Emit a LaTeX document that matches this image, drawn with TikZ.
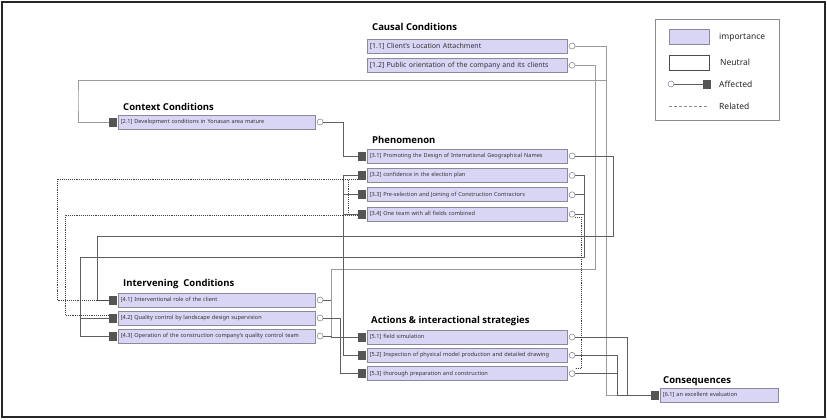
\documentclass[tikz,border=0pt]{standalone}
\usepackage{fontspec}
\setmainfont{Noto Sans}
\newfontfamily\headfont{Open Sans}
\usetikzlibrary{positioning}

\definecolor{impfill}{RGB}{217,213,244}
\definecolor{boxline}{RGB}{138,138,152}
\definecolor{markfill}{RGB}{85,85,85}
\definecolor{wiredark}{RGB}{95,95,95}
\definecolor{wirelight}{RGB}{155,155,155}

\tikzset{
	imp/.style={rectangle, draw=boxline, fill=impfill, line width=0.8pt,
		minimum height=14pt, inner xsep=2.5pt, inner ysep=0pt, anchor=west,
		align=left, text=black!80, font=\fontsize{5.6}{6}\selectfont},
	wide/.style={text width=195pt},
	mid/.style={text width=192pt},
	sq/.style={rectangle, fill=markfill, inner sep=0pt, minimum width=8pt, minimum height=9pt},
	circ/.style={circle, draw=boxline, fill=white, line width=0.6pt, inner sep=0pt, minimum size=6pt},
	head/.style={inner sep=0pt, text depth=0pt, font=\headfont\fontsize{9.5}{10}\selectfont\bfseries},
	wire/.style={draw=wiredark, line width=0.9pt},
	wirel/.style={draw=wirelight, line width=0.7pt},
	related/.style={draw=black!75, line width=0.9pt, densely dotted},
	legtext/.style={inner sep=0pt, anchor=west, font=\fontsize{8.5}{10}\selectfont, text=black!85},
}

\begin{document}
\begin{tikzpicture}[x=1pt, y=-1pt]
	\useasboundingbox (0,0) rectangle (827,420);
	\draw[line width=1.3pt, black!85] (2,2) rectangle (825,417);
	
	% legend
	\node[draw=black!45, line width=0.7pt, minimum width=124pt, minimum height=101pt] (leg) at (717,69.5) {};
	\node[imp, anchor=center, minimum width=40pt, minimum height=15pt] (limp) at (689,36.5) {};
	\node[legtext] (timp) at (719,37) {importance};
	\node[draw=black!70, line width=0.8pt, fill=white, minimum width=40pt, minimum height=15pt] (lneu) at (689,62.5) {};
	\node[legtext] (tneu) at (720,62) {Neutral};
	\node[circ] (laffc) at (671,84) {};
	\node[sq] (laffs) at (707,84) {};
	\node[legtext] (taff) at (719,84) {Affected};
	\coordinate (lrel0) at (669,106);
	\coordinate (lrel1) at (709,106);
	\node[legtext] (trel) at (719,106) {Related};
	
	% causal conditions
	\node[imp, wide, font=\fontsize{7}{8}\selectfont] (c11) at (367,46) {[1.1] Client's Location Attachment};
	\node[imp, wide, font=\fontsize{7}{8}\selectfont, below=4.5pt of c11] (c12) {[1.2] Public orientation of the company and its clients};
	\node[circ, right=1pt of c11] (c11c) {};
	\node[circ, right=1pt of c12] (c12c) {};
	\node[head, above right=8pt and 5pt of c11.north west] (hcau) {Causal Conditions};
	
	% context conditions
	\node[imp, mid] (x21) at (118,122) {[2.1] Development conditions in Yonasan area mature};
	\node[sq, left=1pt of x21] (x21s) {};
	\node[circ, right=1pt of x21] (x21c) {};
	\node[head, above right=4pt and 5pt of x21.north west] (hctx) {Context Conditions};
	
	% phenomenon
	\node[imp, wide] (p31) at (367,156) {[3.1] Promoting the Design of International Geographical Names};
	\node[imp, wide, below=4.6pt of p31] (p32) {[3.2] confidence in the election plan};
	\node[imp, wide, below=4.6pt of p32] (p33) {[3.3] Pre-selection and Joining of Construction Contractors};
	\node[imp, wide, below=4.6pt of p33] (p34) {[3.4] One team with all fields combined};
	\node[sq, left=1pt of p31] (p31s) {};
	\node[sq, left=1pt of p32] (p32s) {};
	\node[sq, left=1pt of p33] (p33s) {};
	\node[sq, left=1pt of p34] (p34s) {};
	\node[circ, right=1pt of p31] (p31c) {};
	\node[circ, right=1pt of p32] (p32c) {};
	\node[circ, right=1pt of p33] (p33c) {};
	\node[circ, right=1pt of p34] (p34c) {};
	\node[head, above right=5pt and 5pt of p31.north west] (hphe) {Phenomenon};
	
	% intervening conditions
	\node[imp, mid] (i41) at (118,300) {[4.1] Interventional role of the client};
	\node[imp, mid, below=3.2pt of i41] (i42) {[4.2] Quality control by landscape design supervision};
	\node[imp, mid, below=3.2pt of i42] (i43) {[4.3] Operation of the construction company's quality control team};
	\node[sq, left=1pt of i41] (i41s) {};
	\node[sq, left=1pt of i42] (i42s) {};
	\node[sq, left=1pt of i43] (i43s) {};
	\node[circ, right=1pt of i41] (i41c) {};
	\node[circ, right=1pt of i42] (i42c) {};
	\node[circ, right=1pt of i43] (i43c) {};
	\node[head, above right=6pt and 5pt of i41.north west] (hint) {Intervening\ \ Conditions};
	
	% actions & interactional strategies
	\node[imp, wide] (s51) at (367,337) {[5.1] field simulation};
	\node[imp, wide, below=3.5pt of s51] (s52) {[5.2] Inspection of physical model production and detailed drawing};
	\node[imp, wide, below=3.5pt of s52] (s53) {[5.3] thorough preparation and construction};
	\node[sq, left=1pt of s51] (s51s) {};
	\node[sq, left=1pt of s52] (s52s) {};
	\node[sq, left=1pt of s53] (s53s) {};
	\node[circ, right=1pt of s51] (s51c) {};
	\node[circ, right=1pt of s52] (s52c) {};
	\node[circ, right=1pt of s53] (s53c) {};
	\node[head, above right=6pt and 4pt of s51.north west] (hact) {Actions \& interactional strategies};
	
	% consequences
	\node[imp, text width=113pt] (q61) at (660,395) {[6.1] an excellent evaluation};
	\node[sq, left=1pt of q61] (q61s) {};
	\node[head, above right=4pt and 3pt of q61.north west] (hcon) {Consequences};
	
	% legend connectors
	\draw[wiredark, line width=0.6pt] (laffc) -- (laffs);
	\draw[related, draw=black!45, line width=0.6pt, densely dashed] (lrel0) -- (lrel1);
	
	% affected
	\draw[wirel] (c11c.east) -- ++(31,0) |- (q61s.west);
	\draw[wirel] (c11c.east) -- ++(31,0) -- ++(0,34) -| (78,100) |- (x21s.west);
	\draw[wirel] (c12c.east) -- ++(20,0) |- (331,269) |- (s51s.west);
	\draw[wire] (x21c.east) -- ++(20,0) |- (p31s.west);
	\draw[wire] (p31c.east) -- ++(38,0) |- (97,236) |- (i41s.west);
	\draw[wire] (p32c.east) -- ++(9,0) |- (80,257) |- (i43s.west);
	\draw[wire] (p33c.east) -- ++(9,0);
	\draw[wire] (p34c.east) -- ++(9,0);
	\draw[wire] (i42s.west) -- ++(-29,0);
	\draw[wire] (p32s.west) -- ++(-14,0) |- (s52s.west);
	\draw[wire] (p33s.west) -- ++(-14,0);
	\draw[wire] (p34s.west) -- ++(-14,0);
	\draw[wire] (i41c.east) -- ++(8,0);
	\draw[wire] (i43c.east) -- ++(8,0) |- (s51s.west);
	\draw[wire] (i42c.east) -- ++(17,0) |- (s53s.west);
	\draw[wire] (s51c.east) -- ++(52,0) |- (q61s.west);
	\draw[wire] (s52c.east) -- ++(42,0) |- (q61s.west);
	\draw[wire] (s53c.east) -- ++(42,0);
	
	% related
	\draw[related] ([yshift=-4pt]p32s.west) -| (57,290) |- (i41s.west);
	\draw[related] ([yshift=-4pt]p32s.west) -- ++(-9,0) |- ([yshift=-1pt]p34s.west);
	\draw[related] ([yshift=-1pt]p34s.west) -| (65,300) |- ([yshift=3pt]i42s.west);
	\draw[related] ([yshift=-3pt]p34c.east) -- ++(6,0) |- ([yshift=5pt]s53c.east);
\end{tikzpicture}
\end{document}
